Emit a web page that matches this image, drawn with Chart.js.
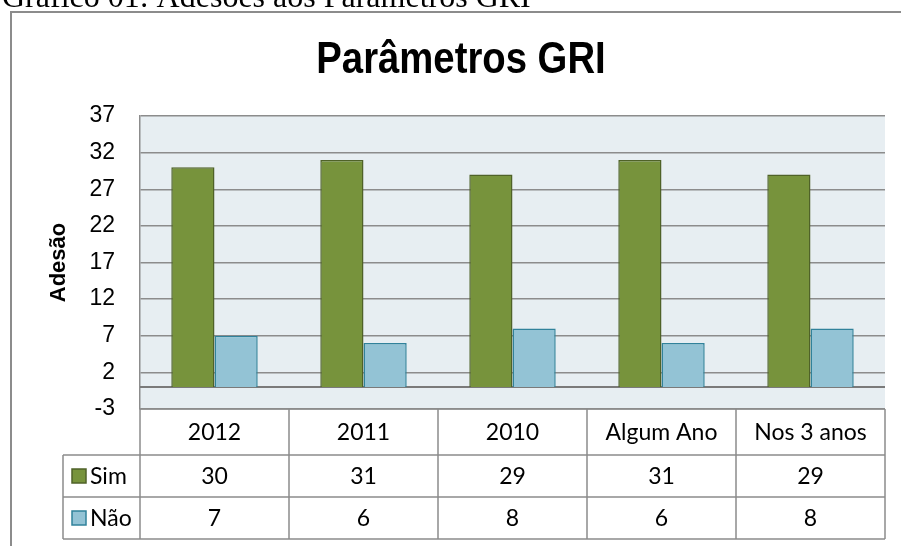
<!DOCTYPE html>
<html>
<head>
<meta charset="utf-8">
<script src="https://cdn.jsdelivr.net/npm/chart.js@4.4.1/dist/chart.umd.min.js"></script>
<style>
  html, body { margin: 0; padding: 0; background: #fff; }
  canvas { display: block; }
</style>
</head>
<body>
<canvas id="grafico" width="901" height="546"></canvas>
<script>
const categorias = ['2012', '2011', '2010', 'Algum Ano', 'Nos 3 anos'];
const sim = [30, 31, 29, 31, 29];
const nao = [7, 6, 8, 6, 8];
const ticksY = [-3, 2, 7, 12, 17, 22, 27, 32, 37];

const corSim = '#77933C', bordaSim = '#4F6228';
const corNao = '#93C3D5', bordaNao = '#31829B';
const cinza = '#8c8c8c';
const sans = '"Liberation Sans", Arial, sans-serif';
const fonteTabela = '23px Lato, "Open Sans", sans-serif';

// fundo, moldura, legenda do gráfico e linha do zero
const fundo = {
    id: 'fundo',
    beforeDraw(chart) {
        const { ctx, chartArea: a } = chart;
        ctx.save();
        ctx.fillStyle = '#E7EEF2';
        ctx.fillRect(a.left, a.top, a.right - a.left, a.bottom - a.top);

        ctx.fillStyle = '#000';
        ctx.font = '32px "Liberation Serif", serif';
        ctx.textBaseline = 'alphabetic';
        ctx.fillText('Gráfico 01: Adesões aos Parâmetros GRI', 2, 7);

        ctx.strokeStyle = cinza;
        ctx.lineWidth = 2;
        ctx.beginPath();
        ctx.moveTo(11, 546);
        ctx.lineTo(11, 12);
        ctx.lineTo(901, 12);
        ctx.stroke();

        // título em fonte estreita: escala horizontal
        ctx.font = 'bold 44px ' + sans;
        ctx.textAlign = 'center';
        ctx.translate(461, 73);
        ctx.scale(0.87, 1);
        ctx.fillText('Parâmetros GRI', 0, 0);
        ctx.restore();
    },
    beforeDatasetsDraw(chart) {
        const { ctx, chartArea: a, scales: { y } } = chart;
        const y0 = Math.round(y.getPixelForValue(0));
        ctx.save();
        ctx.strokeStyle = '#7a7a7a';
        ctx.lineWidth = 2;
        ctx.beginPath();
        ctx.moveTo(a.left, y0);
        ctx.lineTo(a.right, y0);
        ctx.stroke();
        ctx.restore();
    }
};

// tabela de dados abaixo do gráfico
const tabela = {
    id: 'tabela',
    afterDraw(chart) {
        const { ctx, chartArea: a, scales: { x } } = chart;
        const larg = (a.right - a.left) / categorias.length;
        const linhas = [a.bottom, a.bottom + 46, a.bottom + 88, a.bottom + 130];
        const xLeg = 63;

        ctx.save();
        ctx.strokeStyle = cinza;
        ctx.lineWidth = 1.5;
        ctx.beginPath();
        ctx.moveTo(a.left, linhas[0]);
        ctx.lineTo(a.right, linhas[0]);
        for (let i = 1; i < linhas.length; i++) {
            ctx.moveTo(xLeg, linhas[i]);
            ctx.lineTo(a.right, linhas[i]);
        }
        ctx.moveTo(xLeg, linhas[1]);
        ctx.lineTo(xLeg, linhas[3]);
        for (let i = 0; i <= categorias.length; i++) {
            const xc = a.left + i * larg;
            ctx.moveTo(xc, linhas[0]);
            ctx.lineTo(xc, linhas[3]);
        }
        ctx.stroke();

        ctx.fillStyle = '#000';
        ctx.font = fonteTabela;
        ctx.textAlign = 'center';
        ctx.textBaseline = 'middle';
        categorias.forEach((c, i) => {
            const xc = x.getPixelForValue(i);
            ctx.fillText(c, xc, (linhas[0] + linhas[1]) / 2 + 1);
            ctx.fillText(String(sim[i]), xc, (linhas[1] + linhas[2]) / 2 + 1);
            ctx.fillText(String(nao[i]), xc, (linhas[2] + linhas[3]) / 2 + 1);
        });

        const series = [['Sim', corSim, bordaSim], ['Não', corNao, bordaNao]];
        series.forEach(([nome, cor, borda], k) => {
            const meio = (linhas[k + 1] + linhas[k + 2]) / 2;
            ctx.fillStyle = cor;
            ctx.strokeStyle = borda;
            ctx.lineWidth = 1.5;
            ctx.fillRect(72, meio - 7, 14, 14);
            ctx.strokeRect(72, meio - 7, 14, 14);
            ctx.fillStyle = '#000';
            ctx.textAlign = 'left';
            ctx.fillText(nome, 90, meio + 1);
        });
        ctx.restore();
    }
};

new Chart(document.getElementById('grafico'), {
    type: 'bar',
    data: {
        labels: categorias,
        datasets: [
            { label: 'Sim', data: sim, backgroundColor: corSim, borderColor: bordaSim, borderWidth: 1.5 },
            { label: 'Não', data: nao, backgroundColor: corNao, borderColor: bordaNao, borderWidth: 1.5 }
        ]
    },
    options: {
        responsive: false,
        animation: false,
        categoryPercentage: 0.58,
        barPercentage: 1,
        layout: { padding: { top: 116, right: 16, bottom: 137, left: 0 } },
        plugins: {
            legend: { display: false },
            tooltip: { enabled: false }
        },
        scales: {
            x: { display: false },
            y: {
                min: -3,
                max: 37,
                afterBuildTicks: s => { s.ticks = ticksY.map(v => ({ value: v })); },
                afterFit: s => { s.width = 140; },
                grid: { color: cinza, lineWidth: 1.5, drawTicks: false },
                border: { display: true, color: cinza, width: 1.5 },
                ticks: { padding: 25, color: '#000', font: { family: sans, size: 23 } },
                title: {
                    display: true,
                    text: 'Adesão',
                    color: '#000',
                    font: { family: sans, size: 22, weight: 'bold' },
                    padding: { top: 46, bottom: 0 }
                }
            }
        }
    },
    plugins: [fundo, tabela]
});
</script>
</body>
</html>
